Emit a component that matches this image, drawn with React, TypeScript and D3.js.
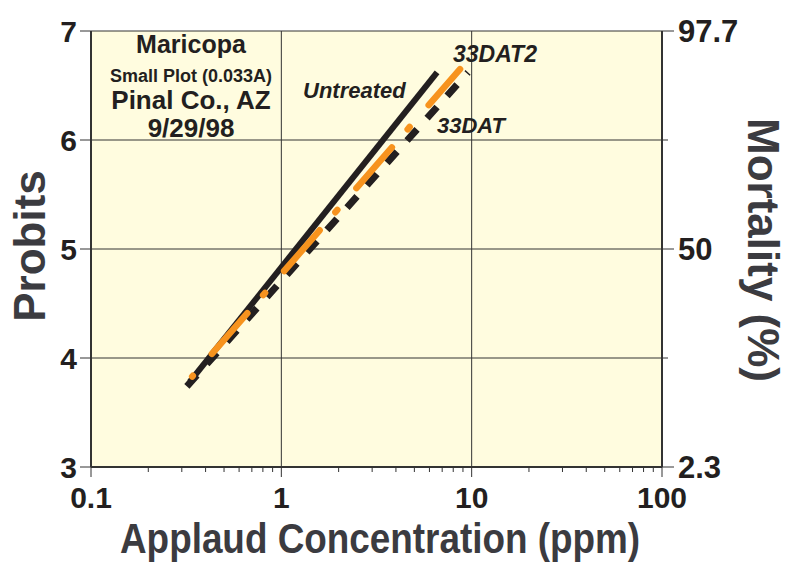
import React from "react";
import * as d3 from "d3";

// ---- data ----
const xDomain = [0.1, 100];
const yDomain = [3, 7];
const xLabelTicks = [0.1, 1, 10, 100];
const xLabelText = ["0.1", "1", "10", "100"];
const yTicks = [3, 4, 5, 6, 7];
const yLabelTicks = [3, 4, 5, 6, 7];
const yLabelText = ["3", "4", "5", "6", "7"];
const rightTickProbits = [3, 4, 5, 6, 7];
const rightLabelProbits = [7, 5, 3];
const rightLabelText = ["97.7", "50", "2.3"];
const gridX = [1, 10];
const gridY = [4, 5, 6];

const untreatedConc = [0.33, 6.58];
const untreatedProbit = [3.78, 6.62];
const dat33Conc = [0.319, 9.57];
const dat33Probit = [3.74, 6.62];
const dat33bConc = [0.34, 8.69];
const dat33bProbit = [3.83, 6.65];

const noteLines = ["Maricopa", "Small Plot (0.033A)", "Pinal Co., AZ", "9/29/98"];

const W = 793;
const H = 563;
const L = 91, R = 662, T = 31, B = 467;
const ink = "#231f20";
const titleInk = "#3b3b40";
const orange = "#f7931e";
const font = "'Liberation Sans', Arial, Helvetica, sans-serif";

export default function App() {
  const x = d3.scaleLog().domain(xDomain).range([L, R]);
  const y = d3.scaleLinear().domain(yDomain).range([B, T]);
  const line = d3
    .line<[number, number]>()
    .x((d) => x(d[0]))
    .y((d) => y(d[1]));
  const pts = (c: number[], p: number[]) => c.map((v, i) => [v, p[i]] as [number, number]);
  const minor = x.ticks().filter((t) => !xLabelTicks.some((m) => Math.abs(m - t) < 1e-9));

  return (
    <svg width={W} height={H} style={{ position: "absolute", left: 0, top: 0, background: "#fff" }} fontFamily={font}>
      <rect x={L} y={T} width={R - L} height={B - T} fill="#fffcdf" />
      {gridX.map((g) => (
        <line key={"gx" + g} x1={x(g)} x2={x(g)} y1={T} y2={B} stroke="#333" strokeWidth={1} />
      ))}
      {gridY.map((g) => (
        <line key={"gy" + g} x1={L} x2={R} y1={y(g)} y2={y(g)} stroke="#333" strokeWidth={1} />
      ))}
      {/* border */}
      <line x1={L} x2={R} y1={T} y2={T} stroke="#333" strokeWidth={1} />
      <line x1={L} x2={L} y1={T} y2={B} stroke="#333" strokeWidth={2} />
      <line x1={R} x2={R} y1={T} y2={B} stroke="#333" strokeWidth={2} />
      <line x1={L} x2={R} y1={B} y2={B} stroke="#333" strokeWidth={2} />
      {/* x ticks */}
      {minor.map((t) => (
        <line key={"mt" + t} x1={x(t)} x2={x(t)} y1={B} y2={B + 5} stroke="#333" strokeWidth={1} />
      ))}
      {xLabelTicks.map((t, i) => (
        <g key={"xt" + t}>
          <line x1={x(t)} x2={x(t)} y1={B} y2={B + 10} stroke="#333" strokeWidth={1} />
          <text x={x(t)} y={508} textAnchor="middle" fontSize={30} fontWeight="bold" fill={ink}>
            {xLabelText[i]}
          </text>
        </g>
      ))}
      {/* left ticks */}
      {yTicks.map((t) => (
        <line key={"yt" + t} x1={L - 11} x2={L} y1={y(t)} y2={y(t)} stroke="#333" strokeWidth={1} />
      ))}
      {yLabelTicks.map((t, i) => (
        <text key={"yl" + t} x={77} y={y(t) + 11} textAnchor="end" fontSize={30} fontWeight="bold" fill={ink}>
          {yLabelText[i]}
        </text>
      ))}
      {/* right ticks */}
      {rightTickProbits.map((t) => (
        <line
          key={"rt" + t}
          x1={R}
          x2={R + (rightLabelProbits.includes(t) ? 12 : 6)}
          y1={y(t)}
          y2={y(t)}
          stroke="#333"
          strokeWidth={1}
        />
      ))}
      {rightLabelProbits.map((t, i) => (
        <text key={"rl" + t} x={678} y={y(t) + 11} textAnchor="start" fontSize={31} fontWeight="bold" fill={ink}>
          {rightLabelText[i]}
        </text>
      ))}
      {/* series */}
      <path d={line(pts(untreatedConc, untreatedProbit)) || ""} stroke={ink} strokeWidth={6} fill="none" />
      <path
        d={line(pts(dat33Conc, dat33Probit)) || ""}
        stroke={ink}
        strokeWidth={7}
        fill="none"
        strokeDasharray="15 15"
      />
      <path
        d={line(pts(dat33bConc, dat33bProbit)) || ""}
        stroke={orange}
        strokeWidth={6.5}
        fill="none"
        strokeLinecap="round"
        strokeDasharray="54 24 3 29"
        strokeDashoffset={80}
      />
      {/* series labels */}
      <text x={303} y={98} fontSize={22} fontWeight="bold" fontStyle="italic" fill={ink}>
        Untreated
      </text>
      <text x={453} y={62} fontSize={23} fontWeight="bold" fontStyle="italic" fill={ink}>
        33DAT2
      </text>
      <text x={437} y={133} fontSize={22} fontWeight="bold" fontStyle="italic" fill={ink}>
        33DAT
      </text>
      {/* note */}
      <text x={191} y={53} textAnchor="middle" fontSize={25} fontWeight="bold" fill={ink}>
        {noteLines[0]}
      </text>
      <text x={191} y={81.5} textAnchor="middle" fontSize={18} fontWeight="bold" fill={ink}>
        {noteLines[1]}
      </text>
      <text x={191} y={109} textAnchor="middle" fontSize={26} fontWeight="bold" fill={ink}>
        {noteLines[2]}
      </text>
      <text x={191} y={136.5} textAnchor="middle" fontSize={26} fontWeight="bold" fill={ink}>
        {noteLines[3]}
      </text>
      {/* axis titles */}
      <text
        x={380}
        y={553}
        textAnchor="middle"
        fontSize={42}
        fontWeight="bold"
        fill={titleInk}
        textLength={520}
        lengthAdjust="spacingAndGlyphs"
      >
        Applaud Concentration (ppm)
      </text>
      <text
        transform={`translate(45,246) rotate(-90)`}
        textAnchor="middle"
        fontSize={44}
        fontWeight="bold"
        fill={titleInk}
      >
        Probits
      </text>
      <text
        transform={`translate(748,250) rotate(90)`}
        textAnchor="middle"
        fontSize={44}
        fontWeight="bold"
        fill={titleInk}
      >
        Mortality (%)
      </text>
    </svg>
  );
}
